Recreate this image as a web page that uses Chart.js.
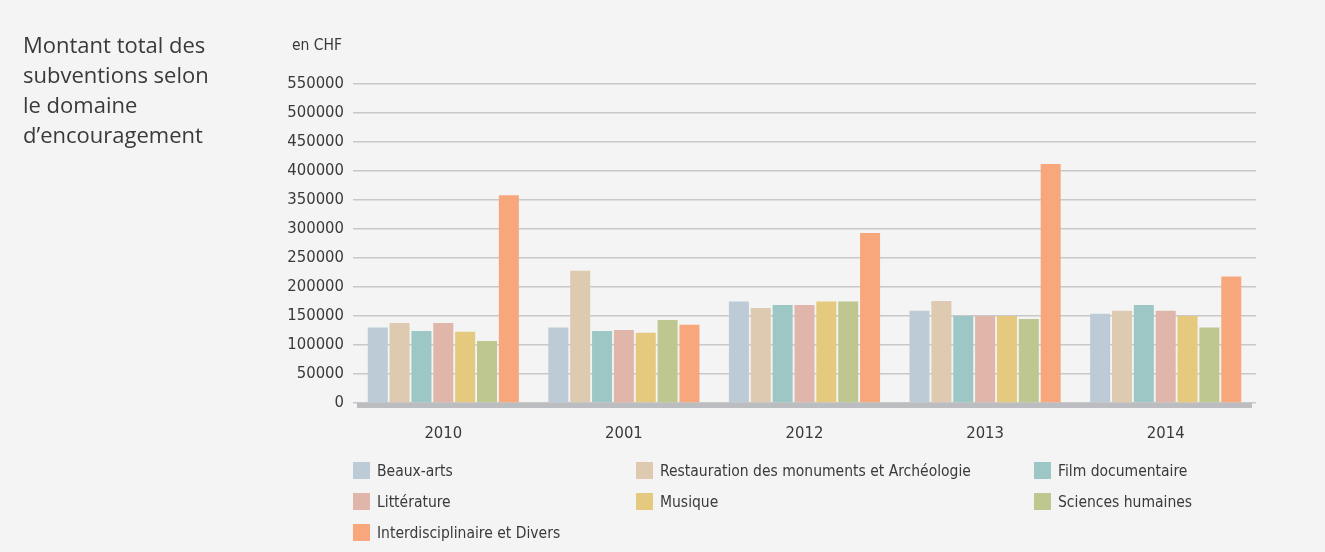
<!DOCTYPE html>
<html>
<head>
<meta charset="utf-8">
<script src="https://cdn.jsdelivr.net/npm/chart.js@4.4.1/dist/chart.umd.min.js"></script>
<style>
  body { margin: 0; background: #f3f4f3; }
  .wrap { position: relative; width: 1325px; height: 552px; overflow: hidden; }
  canvas { position: absolute; left: 0; top: 0; }
  .title {
    position: absolute; left: 23px; top: 29px;
    font-family: "Open Sans", sans-serif; font-size: 22px; line-height: 30px;
    color: #3a3a3a;
  }
  .unit {
    position: absolute; left: 262px; width: 80px; top: 36px; text-align: right;
    font-family: "DejaVu Sans Condensed", "Open Sans", sans-serif;
    font-size: 15.5px; color: #3a3a3a;
  }
  .legend { position: absolute; left: 0; top: 0; }
  .item {
    position: absolute; height: 17px; display: flex; align-items: center;
    font-family: "DejaVu Sans Condensed", "Open Sans", sans-serif;
    font-size: 15.5px; color: #3a3a3a; white-space: nowrap;
  }
  .sw { width: 17px; height: 17px; margin-right: 7px; flex: none; }
</style>
</head>
<body>
<div class="wrap">
  <canvas id="chart" width="1325" height="552"></canvas>
  <div class="title">Montant total des<br>subventions selon<br>le domaine<br>d’encouragement</div>
  <div class="unit">en CHF</div>
  <div class="legend" id="legend"></div>
</div>
<script>
const years = ['2010', '2001', '2012', '2013', '2014']

const beauxArts      = [130000, 130000, 175000, 159000, 154000]
const restauration   = [138000, 228000, 164000, 176000, 159000]
const filmDoc        = [124000, 124000, 169000, 150000, 169000]
const litterature    = [138000, 126000, 169000, 150000, 159000]
const musique        = [123000, 121000, 175000, 150000, 150000]
const sciences       = [107000, 143000, 175000, 145000, 130000]
const interdisc      = [358000, 135000, 293000, 412000, 218000]

const seriesNames = [
    'Beaux-arts',
    'Restauration des monuments et Archéologie',
    'Film documentaire',
    'Littérature',
    'Musique',
    'Sciences humaines',
    'Interdisciplinaire et Divers'
]
const seriesValues = [beauxArts, restauration, filmDoc, litterature, musique, sciences, interdisc]
const colors = ['#bccbd6', '#ddcab1', '#9dc7c4', '#e0b6aa', '#e4c97e', '#bec78f', '#f8a67b']

const narrow = '"DejaVu Sans Condensed", "Open Sans", sans-serif'

// grey base bar under the columns
const baseline = {
    id: 'baseline',
    beforeDatasetsDraw(chart) {
        const {ctx, chartArea} = chart
        ctx.save()
        ctx.fillStyle = '#bcbdc0'
        ctx.fillRect(chartArea.left + 4, chartArea.bottom, chartArea.right - chartArea.left - 8, 5)
        ctx.restore()
    }
}

let datasets = []
for (let i = 0; i < seriesNames.length; i++) {
    datasets.push({
        label: seriesNames[i],
        data: seriesValues[i],
        backgroundColor: colors[i],
        borderWidth: 0,
        barPercentage: 0.915,
        categoryPercentage: 0.847
    })
}

const config = {
    type: 'bar',
    data: { labels: years, datasets: datasets },
    options: {
        responsive: false,
        animation: false,
        layout: { padding: { top: 84, right: 69, left: 0, bottom: 0 } },
        plugins: { legend: { display: false }, tooltip: { enabled: false } },
        scales: {
            x: {
                grid: { display: false, drawTicks: false },
                border: { display: false },
                ticks: { color: '#3a3a3a', font: { family: narrow, size: 16.5 }, padding: 21 },
                afterFit: (scale) => { scale.height = 149 }
            },
            y: {
                min: 0,
                max: 550000,
                grid: { color: '#c8c8c8', lineWidth: 1.5, drawTicks: false },
                border: { display: false },
                ticks: {
                    stepSize: 50000,
                    color: '#3a3a3a',
                    font: { family: narrow, size: 16.5 },
                    padding: 9,
                    callback: (v) => String(v)
                },
                afterFit: (scale) => { scale.width = 353 }
            }
        }
    },
    plugins: [baseline]
}

new Chart(document.getElementById('chart').getContext('2d'), config)

// legend in three columns
const colX = [353, 636, 1034]
const rowY = [462, 493, 524]
const legend = document.getElementById('legend')
for (let i = 0; i < seriesNames.length; i++) {
    const item = document.createElement('div')
    item.className = 'item'
    item.style.left = colX[i % 3] + 'px'
    item.style.top = rowY[Math.floor(i / 3)] + 'px'
    const sw = document.createElement('span')
    sw.className = 'sw'
    sw.style.background = colors[i]
    item.appendChild(sw)
    item.appendChild(document.createTextNode(seriesNames[i]))
    legend.appendChild(item)
}
</script>
</body>
</html>
